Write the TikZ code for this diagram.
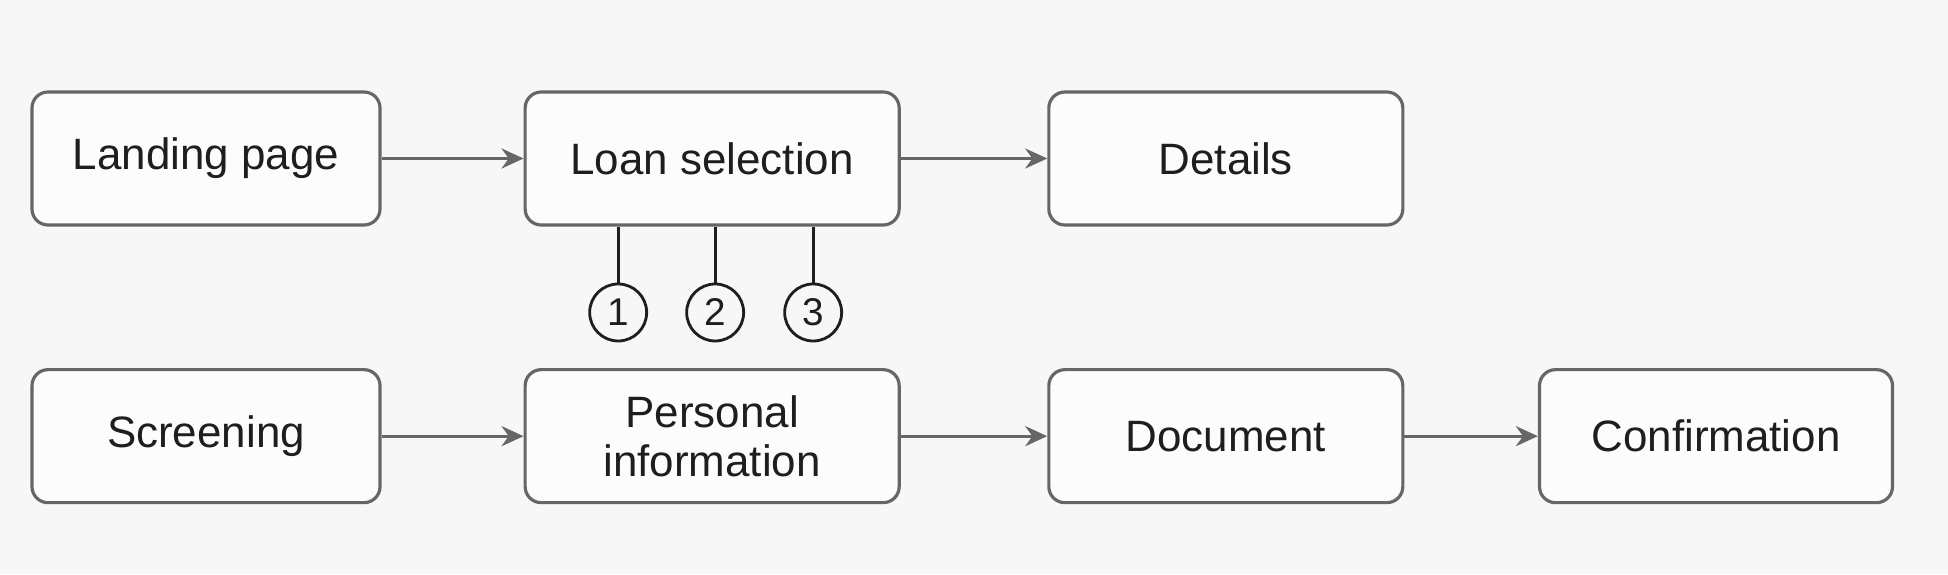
\documentclass[tikz,border=0pt]{standalone}
\usepackage{fontspec}
\setmainfont{Liberation Sans}
\usepackage{xcolor}
\usetikzlibrary{positioning,arrows.meta}

\definecolor{bgcol}{HTML}{F7F7F7}
\definecolor{linecol}{HTML}{666666}
\definecolor{txtcol}{HTML}{1E1E1E}

\begin{document}
\begin{tikzpicture}[
	box/.style={draw=linecol, line width=0.9pt, rectangle, rounded corners=0.16cm, align=center, fill=white!60!bgcol, text=txtcol, minimum height=1.33cm, font=\fontsize{12.5}{15}\selectfont},
	numcirc/.style={draw=txtcol, line width=0.8pt, circle, minimum size=0.57cm, inner sep=0pt, text=txtcol, font=\fontsize{11}{13}\selectfont},
	flow/.style={draw=linecol, line width=0.9pt, -{Stealth[length=2.2mm,width=2mm]}},
	tick/.style={draw=txtcol, line width=0.8pt}
	]
	
	\fill[bgcol] (0,0) rectangle (19.48,5.74);
	\useasboundingbox (0,0) rectangle (19.48,5.74);
	
	%==================== top row ====================
	\node[box, minimum width=3.48cm] (landing) at (2.06,4.155) {Landing page};
	\node[box, minimum width=3.74cm, right=1.42cm of landing] (loan) {Loan selection};
	\node[box, minimum width=3.54cm, right=1.465cm of loan] (details) {Details};
	
	\draw[flow] (landing) -- (loan);
	\draw[flow] (loan) -- (details);
	
	%==================== options ====================
	\node[numcirc, below=0.56cm of loan.south, xshift=-0.94cm] (opt1) {1};
	\node[numcirc, below=0.56cm of loan.south, xshift=0.03cm] (opt2) {2};
	\node[numcirc, below=0.56cm of loan.south, xshift=1.01cm] (opt3) {3};
	
	\draw[tick] (opt1) -- (opt1 |- loan.south);
	\draw[tick] (opt2) -- (opt2 |- loan.south);
	\draw[tick] (opt3) -- (opt3 |- loan.south);
	
	%==================== bottom row ====================
	\node[box, minimum width=3.48cm, below=1.415cm of landing] (screening) {Screening};
	\node[box, minimum width=3.74cm, below=1.415cm of loan] (personal) {Personal\\[-0.9pt]information};
	\node[box, minimum width=3.54cm, below=1.415cm of details] (document) {Document};
	\node[box, minimum width=3.53cm, right=1.335cm of document] (confirm) {Confirmation};
	
	\draw[flow] (screening) -- (personal);
	\draw[flow] (personal) -- (document);
	\draw[flow] (document) -- (confirm);
	
\end{tikzpicture}
\end{document}
